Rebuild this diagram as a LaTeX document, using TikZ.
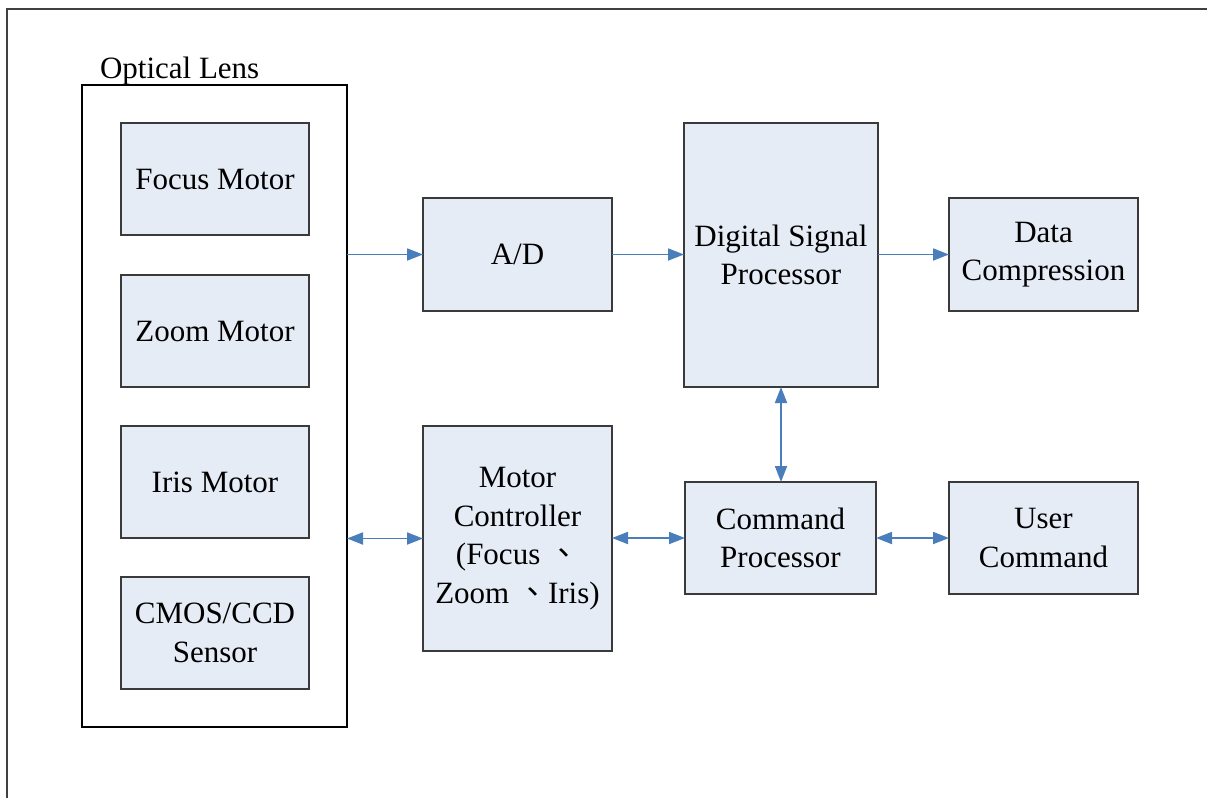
\documentclass[tikz,border=0pt]{standalone}
\usepackage{fontspec}
\setmainfont{Liberation Serif}
\newfontfamily\cjk{Noto Sans CJK TC}
\usetikzlibrary{arrows.meta}
\definecolor{boxfill}{HTML}{E6ECF6}
\definecolor{boxline}{HTML}{3A3A3A}
\definecolor{arrowblue}{HTML}{4A7EBB}
\begin{document}
\begin{tikzpicture}[x=1pt,y=-1pt,
  every node/.style={font=\fontsize{31}{38.5}\selectfont, inner sep=0pt, outer sep=0pt},
  blk/.style={draw=boxline, line width=2.2pt, fill=boxfill, align=center},
  conn/.style={draw=arrowblue, line width=1.8pt},
  one/.style={conn, -{Triangle[length=16pt,width=12pt]}},
  two/.style={conn, {Triangle[length=16pt,width=12pt]}-{Triangle[length=16pt,width=12pt]}}]
\useasboundingbox (0,0) rectangle (1207,798);
% outer frame (cropped)
\coordinate (frTL) at (7,9);
\coordinate (frTR) at (1207,9);
\coordinate (frBL) at (7,798);
\draw[line width=2.5pt, draw=black!75] (frBL) -- (frTL) -- (frTR);
% optical lens
\node[draw=black, line width=2pt, minimum width=265pt, minimum height=642pt] (lens) at (214.5,406) {};
\node[anchor=base west] (lenslbl) at (100,78) {Optical Lens};
\node[blk, minimum width=188pt, minimum height=112pt] (focus) at (215,179) {Focus Motor};
\node[blk, minimum width=188pt, minimum height=112pt] (zoom) at (215,331) {Zoom Motor};
\node[blk, minimum width=188pt, minimum height=112pt] (iris) at (215,482) {Iris Motor};
\node[blk, minimum width=188pt, minimum height=112pt] (cmos) at (215,633) {CMOS/CCD\\Sensor};
% right side blocks
\node[blk, minimum width=189pt, minimum height=113pt] (ad) at (517.5,254.5) {A/D};
\node[blk, minimum width=194pt, minimum height=264pt] (dsp) at (781,255) {Digital Signal\\Processor};
\node[blk, minimum width=189pt, minimum height=113pt] (dc) at (1043.5,254.5) {Data\\Compression};
\node[blk, minimum width=189pt, minimum height=225pt] (mc) at (517.5,538.5) {Motor\\Controller\\(Focus {\cjk 、}\\Zoom {\cjk 、}Iris)};
\node[blk, minimum width=191pt, minimum height=112pt] (cp) at (780.5,538) {Command\\Processor};
\node[blk, minimum width=189pt, minimum height=112pt] (uc) at (1043.5,538) {User\\Command};
% connectors
\draw[one] (lens.east |- ad.west) -- (ad.west);
\draw[one] (ad.east) -- (ad.east -| dsp.west);
\draw[one] (dsp.east |- dc.west) -- (dc.west);
\draw[two] (dsp.south) -- (dsp.south |- cp.north);
\draw[two] (lens.east |- mc.west) -- (mc.west);
\draw[two] (mc.east |- cp.west) -- (cp.west);
\draw[two] (cp.east) -- (uc.west);
\end{tikzpicture}
\end{document}
